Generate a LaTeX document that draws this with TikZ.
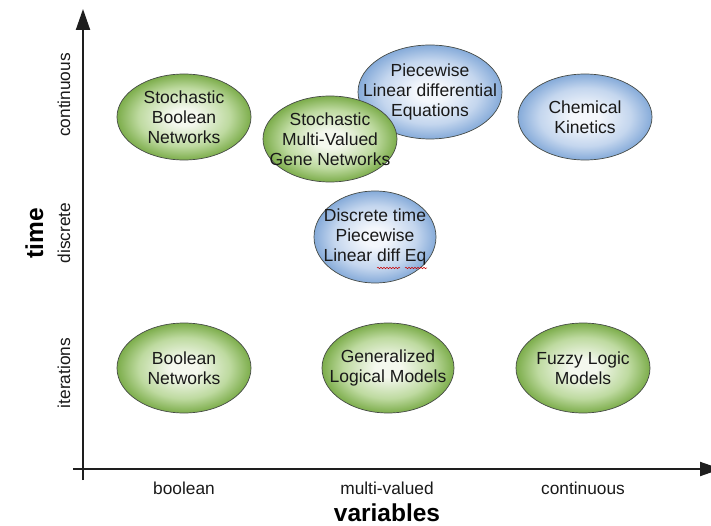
\documentclass[tikz,border=0pt]{standalone}
\usepackage{fontspec}
\setmainfont{Liberation Sans}
\usetikzlibrary{shapes.geometric,arrows.meta,decorations.pathmorphing,calc}
\definecolor{gin}{RGB}{244,248,238}
\definecolor{gmid}{RGB}{190,218,160}
\definecolor{gout}{RGB}{108,162,54}
\definecolor{bin}{RGB}{244,247,252}
\definecolor{bmid}{RGB}{196,214,238}
\definecolor{bout}{RGB}{118,160,212}
\definecolor{axiscol}{RGB}{30,30,30}
\definecolor{rimcol}{RGB}{70,75,70}
\pgfdeclareradialshading{gshade}{\pgfpoint{0bp}{0bp}}{color(0bp)=(gin); color(5bp)=(gin); color(17bp)=(gmid); color(27bp)=(gout); color(50bp)=(gout)}
\pgfdeclareradialshading{bshade}{\pgfpoint{0bp}{0bp}}{color(0bp)=(bin); color(5bp)=(bin); color(17bp)=(bmid); color(27bp)=(bout); color(50bp)=(bout)}
\begin{document}
\begin{tikzpicture}[x=1pt,y=-1pt,
  ell/.style={ellipse, draw=rimcol, line width=0.7pt, inner sep=0pt},
  gell/.style={ell, shading=gshade},
  bell/.style={ell, shading=bshade},
  eltxt/.style={align=center, font=\fontsize{17.5}{20}\selectfont, inner sep=0pt, text=black!90},
  axlbl/.style={font=\fontsize{17.3}{20}\selectfont, inner sep=0pt, anchor=base, text=black!90},
  axtitle/.style={font=\bfseries\fontsize{24.5}{28}\selectfont, inner sep=0pt, anchor=base},
  axis/.style={draw=axiscol, line width=2pt, -{Triangle[length=21pt,width=14pt]}},
  squig/.style={draw=red!80!black, line width=0.5pt, decorate, decoration={snake, amplitude=0.7pt, segment length=3pt}}
]
\useasboundingbox (0,0) rectangle (711,526);

% axes
\coordinate (yb) at (83,480);
\coordinate (yt) at (83,9);
\coordinate (xl) at (73,469);
\coordinate (xr) at (721,469);
\draw[axis] (yb) -- (yt);
\draw[axis] (xl) -- (xr);

% ellipses
\node[bell, minimum width=144pt, minimum height=94pt,
  label={[eltxt]center:Piecewise\\Linear differential\\Equations}] (plde) at (430,92) {};
\node[gell, minimum width=134pt, minimum height=86pt,
  label={[eltxt]center:Stochastic\\Boolean\\Networks}] (sbn) at (184,117) {};
\node[gell, minimum width=134pt, minimum height=86pt,
  label={[eltxt]center:Stochastic\\Multi-Valued\\Gene Networks}] (smv) at (330,139) {};
\node[bell, minimum width=134pt, minimum height=86pt,
  label={[eltxt]center:Chemical\\Kinetics}] (ck) at (585,117) {};
\node[bell, minimum width=122pt, minimum height=92pt,
  label={[eltxt]center:Discrete time\\Piecewise\\Linear diff Eq}] (dt) at (375,237) {};
\node[gell, minimum width=134pt, minimum height=90pt,
  label={[eltxt]center:Boolean\\Networks}] (bn) at (184,368) {};
\node[gell, minimum width=132pt, minimum height=90pt,
  label={[eltxt]center:Generalized\\Logical Models}] (glm) at (388,368) {};
\node[gell, minimum width=134pt, minimum height=90pt,
  label={[eltxt]center:Fuzzy Logic\\Models}] (flm) at (583,368) {};

% spell-check squiggles
\coordinate (sq1a) at ($(dt)+(2,31)$);
\coordinate (sq1b) at ($(dt)+(25,31)$);
\coordinate (sq2a) at ($(dt)+(30,31)$);
\coordinate (sq2b) at ($(dt)+(52,31)$);
\draw[squig] (sq1a) -- (sq1b);
\draw[squig] (sq2a) -- (sq2b);

% axis labels
\node[axlbl] (xb) at (184,494) {boolean};
\node[axlbl] (xm) at (387,494) {multi-valued};
\node[axlbl] (xc) at (583,494) {continuous};
\node[axtitle] (xt) at (387,521) {variables};
\node[axlbl, rotate=90] (yc) at (70,95) {continuous};
\node[axlbl, rotate=90] (yd) at (70,233) {discrete};
\node[axlbl, rotate=90] (yi) at (70,373) {iterations};
\node[axtitle, rotate=90] (ytt) at (43,233) {time};
\end{tikzpicture}
\end{document}
